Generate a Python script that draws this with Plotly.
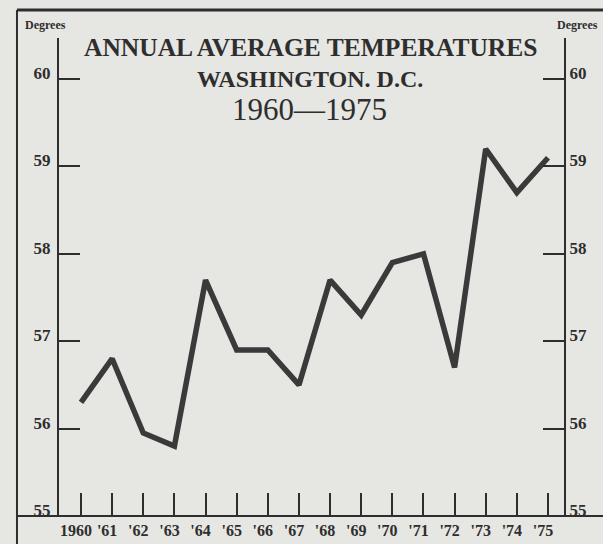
import plotly.graph_objects as go

years = list(range(1960, 1976))
year_labels = ["1960", "'61", "'62", "'63", "'64", "'65", "'66", "'67",
               "'68", "'69", "'70", "'71", "'72", "'73", "'74", "'75"]
temps = [56.3, 56.8, 55.95, 55.8, 57.7, 56.9, 56.9, 56.5,
         57.7, 57.3, 57.9, 58.0, 56.7, 59.2, 58.7, 59.1]
y_ticks = [55, 56, 57, 58, 59, 60]
y_tick_labels = ["55", "56", "57", "58", "59", "60"]
title_lines = ["ANNUAL AVERAGE TEMPERATURES", "WASHINGTON. D.C.", "1960\u20141975"]
unit_label = "Degrees"

INK = "#2e2e2e"
BG = "#e6e6e3"
SERIF = "Liberation Serif"

fig = go.Figure()
fig.add_trace(go.Scatter(x=years, y=temps, mode="lines",
                         line=dict(color="#3a3a3a", width=5.5),
                         hoverinfo="skip", showlegend=False))
fig.add_trace(go.Scatter(x=[years[0]], y=[temps[0]], mode="markers",
                         marker=dict(opacity=0), yaxis="y2",
                         hoverinfo="skip", showlegend=False))

xtickfont = dict(family=SERIF, size=16, color=INK, weight="bold")
ytickfont = dict(family=SERIF, size=17, color=INK, weight="bold")

fig.update_layout(
    width=603, height=544,
    margin=dict(l=59, r=39, t=38, b=28, pad=0),
    paper_bgcolor=BG, plot_bgcolor=BG,
    xaxis=dict(range=[1959.293, 1975.514], tickvals=years, ticktext=year_labels,
               ticks="inside", ticklen=23, tickwidth=2, tickcolor=INK,
               showgrid=False, zeroline=False, showline=False, automargin=False,
               tickfont=xtickfont, ticklabelshift=-5, ticklabelstandoff=3),
    yaxis=dict(range=[55, 60.47], tickvals=y_ticks, ticktext=y_tick_labels,
               ticks="inside", ticklen=21, tickwidth=2, tickcolor=INK,
               showgrid=False, zeroline=False, showline=True, linewidth=2,
               linecolor=INK, tickfont=ytickfont, ticklabelshift=-6,
               ticklabelstandoff=3, automargin=False),
    yaxis2=dict(range=[55, 60.47], tickvals=y_ticks, ticktext=y_tick_labels,
                overlaying="y", side="right",
                ticks="inside", ticklen=21, tickwidth=2, tickcolor=INK,
                showgrid=False, zeroline=False, showline=True, linewidth=2,
                linecolor=INK, tickfont=ytickfont, ticklabelshift=-6,
                ticklabelstandoff=0, automargin=False),
)

# frame and baseline
fig.add_shape(type="line", xref="paper", yref="paper", x0=-0.0832, x1=-0.0832,
              y0=-0.2, y1=1.0586, line=dict(color=INK, width=2))
fig.add_shape(type="line", xref="paper", yref="paper", x0=-0.0832, x1=1.3,
              y0=1.0586, y1=1.0586, line=dict(color=INK, width=3))
fig.add_shape(type="line", xref="paper", yref="paper", x0=-0.0832, x1=1.3,
              y0=0, y1=0, line=dict(color=INK, width=2))

# titles
fig.add_annotation(text=title_lines[0], xref="paper", yref="paper", x=0.499, y=0.981,
                   showarrow=False, xanchor="center", yanchor="middle",
                   font=dict(family=SERIF, size=25.5, color=INK, weight="bold"))
fig.add_annotation(text=title_lines[1], xref="paper", yref="paper", x=0.497, y=0.914,
                   showarrow=False, xanchor="center", yanchor="middle",
                   font=dict(family=SERIF, size=24, color=INK, weight="bold"))
fig.add_annotation(text=title_lines[2], xref="paper", yref="paper", x=0.497, y=0.851,
                   showarrow=False, xanchor="center", yanchor="middle",
                   font=dict(family=SERIF, size=31, color=INK))

for xp in (-0.0277, 1.026):
    fig.add_annotation(text=unit_label, xref="paper", yref="paper", x=xp, y=1.027,
                       showarrow=False, xanchor="center", yanchor="middle",
                       font=dict(family=SERIF, size=12, color=INK, weight="bold"))

fig.write_html("out.html", config={"displayModeBar": False},
               post_script="document.body.style.margin='0';document.body.style.overflow='hidden';")
